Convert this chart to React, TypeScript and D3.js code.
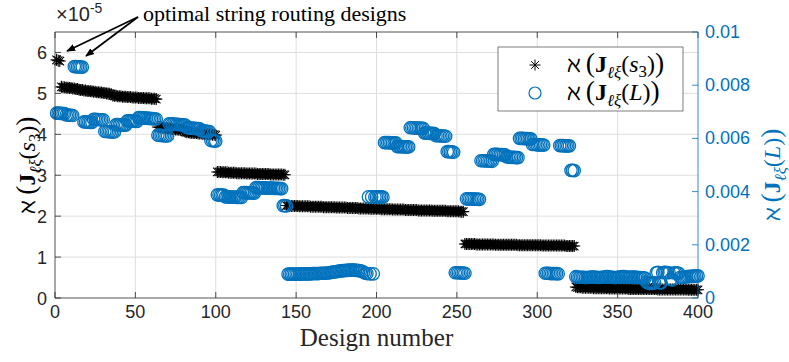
import React from 'react';
import * as d3 from 'd3';

// aleph of J for string s3 (left axis, x1e-5), one value per design 1..400
const starVals = [
  5.82, 5.80, 5.79, 5.16, 5.15, 5.15, 5.14, 5.14, 5.13, 5.13,
  5.12, 5.12, 5.11, 5.11, 5.09, 5.08, 5.08, 5.07, 5.07, 5.06,
  5.06, 5.05, 5.05, 5.04, 5.04, 5.03, 5.03, 5.02, 5.02, 5.01,
  5.01, 5.00, 5.00, 4.99, 4.98, 4.95, 4.94, 4.94, 4.93, 4.93,
  4.93, 4.92, 4.92, 4.92, 4.91, 4.91, 4.91, 4.90, 4.90, 4.90,
  4.90, 4.89, 4.89, 4.89, 4.89, 4.88, 4.88, 4.88, 4.88, 4.87,
  4.87, 4.87, 4.86, 4.18, 4.17, 4.17, 4.16, 4.16, 4.15, 4.15,
  4.14, 4.14, 4.13, 4.13, 4.12, 4.12, 4.11, 4.11, 4.10, 4.10,
  4.06, 4.05, 4.05, 4.04, 4.04, 4.03, 4.03, 4.03, 4.02, 4.02,
  4.02, 4.01, 4.01, 4.01, 4.00, 4.00, 4.00, 3.99, 3.99, 3.98,
  3.08, 3.08, 3.08, 3.07, 3.07, 3.07, 3.07, 3.06, 3.06, 3.06,
  3.06, 3.06, 3.05, 3.05, 3.05, 3.05, 3.05, 3.05, 3.04, 3.04,
  3.04, 3.04, 3.04, 3.04, 3.04, 3.03, 3.03, 3.03, 3.03, 3.03,
  3.03, 3.03, 3.03, 3.02, 3.02, 3.02, 3.02, 3.02, 3.02, 3.02,
  3.02, 3.01, 3.01, 2.26, 2.26, 2.25, 2.25, 2.25, 2.25, 2.25,
  2.25, 2.24, 2.24, 2.24, 2.24, 2.24, 2.24, 2.24, 2.23, 2.23,
  2.23, 2.23, 2.23, 2.23, 2.23, 2.23, 2.22, 2.22, 2.22, 2.22,
  2.22, 2.22, 2.22, 2.22, 2.21, 2.21, 2.21, 2.21, 2.21, 2.21,
  2.21, 2.20, 2.20, 2.20, 2.20, 2.20, 2.20, 2.20, 2.19, 2.19,
  2.19, 2.19, 2.19, 2.19, 2.19, 2.18, 2.18, 2.18, 2.18, 2.18,
  2.18, 2.18, 2.17, 2.17, 2.17, 2.17, 2.17, 2.17, 2.17, 2.16,
  2.16, 2.16, 2.16, 2.16, 2.16, 2.16, 2.16, 2.15, 2.15, 2.15,
  2.15, 2.15, 2.15, 2.15, 2.15, 2.14, 2.14, 2.14, 2.14, 2.14,
  2.14, 2.14, 2.14, 2.14, 2.13, 2.13, 2.13, 2.13, 2.13, 2.13,
  2.13, 2.13, 2.13, 2.12, 2.12, 2.12, 2.12, 2.12, 2.12, 2.12,
  2.12, 2.11, 2.11, 2.11, 1.32, 1.32, 1.32, 1.32, 1.32, 1.32,
  1.32, 1.31, 1.31, 1.31, 1.31, 1.31, 1.31, 1.31, 1.31, 1.31,
  1.31, 1.31, 1.31, 1.30, 1.30, 1.30, 1.30, 1.30, 1.30, 1.30,
  1.30, 1.30, 1.30, 1.30, 1.30, 1.30, 1.30, 1.29, 1.29, 1.29,
  1.29, 1.29, 1.29, 1.29, 1.29, 1.29, 1.29, 1.29, 1.29, 1.29,
  1.29, 1.29, 1.28, 1.28, 1.28, 1.28, 1.28, 1.28, 1.28, 1.28,
  1.28, 1.28, 1.28, 1.28, 1.28, 1.28, 1.28, 1.27, 1.27, 1.27,
  1.27, 1.27, 1.27, 0.27, 0.26, 0.26, 0.26, 0.25, 0.25, 0.25,
  0.25, 0.25, 0.25, 0.25, 0.24, 0.24, 0.24, 0.24, 0.24, 0.24,
  0.24, 0.24, 0.24, 0.24, 0.23, 0.23, 0.23, 0.23, 0.23, 0.23,
  0.23, 0.23, 0.23, 0.23, 0.23, 0.23, 0.22, 0.22, 0.22, 0.22,
  0.22, 0.22, 0.22, 0.22, 0.22, 0.22, 0.22, 0.22, 0.22, 0.22,
  0.22, 0.22, 0.22, 0.22, 0.21, 0.21, 0.21, 0.21, 0.21, 0.21,
  0.21, 0.21, 0.21, 0.21, 0.21, 0.21, 0.21, 0.21, 0.21, 0.21,
  0.21, 0.21, 0.21, 0.20, 0.20, 0.20, 0.20, 0.20, 0.20, 0.20,
];

// aleph of J for L (right axis, x1e-3), one value per design 1..400
const circleVals = [
  6.95, 6.95, 6.94, 6.94, 6.93, 6.93, 6.88, 6.88, 6.87, 6.87,
  6.86, 8.70, 8.70, 8.69, 8.69, 8.68, 8.68, 6.62, 6.62, 6.61,
  6.61, 6.60, 6.60, 6.72, 6.72, 6.71, 6.71, 6.70, 6.70, 6.70,
  6.26, 6.26, 6.25, 6.25, 6.24, 6.24, 6.24, 6.52, 6.52, 6.51,
  6.51, 6.50, 6.50, 6.50, 6.66, 6.66, 6.65, 6.65, 6.65, 6.64,
  6.64, 6.78, 6.78, 6.77, 6.77, 6.76, 6.76, 6.75, 6.75, 6.74,
  6.74, 6.73, 6.73, 6.12, 6.11, 6.11, 6.10, 6.10, 6.09, 6.09,
  6.55, 6.55, 6.54, 6.54, 6.53, 6.53, 6.52, 6.52, 6.51, 6.51,
  6.50, 6.40, 6.40, 6.39, 6.39, 6.38, 6.38, 6.37, 6.37, 6.36,
  6.28, 6.28, 6.27, 6.27, 6.26, 6.26, 5.92, 5.92, 5.91, 5.90,
  3.88, 3.88, 3.87, 3.87, 3.87, 3.80, 3.80, 3.80, 3.79, 3.79,
  3.79, 3.79, 3.78, 3.78, 3.78, 3.78, 3.96, 3.96, 3.96, 3.95,
  3.95, 3.95, 3.95, 3.94, 4.15, 4.15, 4.15, 4.14, 4.14, 4.14,
  4.14, 4.13, 4.13, 4.13, 4.13, 4.12, 4.12, 4.12, 4.12, 4.11,
  4.11, 3.47, 3.47, 3.46, 0.90, 0.90, 0.90, 0.90, 0.90, 0.90,
  0.90, 0.90, 0.91, 0.91, 0.91, 0.91, 0.91, 0.91, 0.91, 0.92,
  0.92, 0.92, 0.92, 0.92, 0.93, 0.93, 0.93, 0.93, 0.94, 0.94,
  0.95, 0.96, 0.97, 0.98, 0.99, 1.00, 1.01, 1.02, 1.03, 1.03,
  1.04, 1.04, 1.05, 1.05, 1.05, 1.05, 1.04, 1.04, 1.03, 1.02,
  1.00, 0.97, 0.93, 0.92, 3.80, 0.91, 3.80, 0.91, 3.80, 3.80,
  3.80, 3.80, 3.80, 3.79, 5.84, 5.84, 5.84, 5.84, 5.83, 5.83,
  5.83, 5.83, 5.69, 5.69, 5.69, 5.69, 5.68, 5.68, 5.68, 5.68,
  6.40, 6.40, 6.40, 6.39, 6.39, 6.39, 6.39, 6.38, 6.38, 6.20,
  6.20, 6.20, 6.19, 6.19, 6.19, 6.18, 6.10, 6.10, 6.10, 6.09,
  6.09, 6.09, 6.08, 5.50, 5.50, 5.49, 5.49, 5.48, 0.95, 0.95,
  0.95, 0.94, 0.94, 0.94, 0.93, 3.73, 3.73, 3.73, 3.72, 3.72,
  3.72, 3.72, 3.71, 3.71, 5.16, 5.16, 5.16, 5.15, 5.15, 5.15,
  5.15, 5.14, 5.40, 5.40, 5.40, 5.39, 5.39, 5.39, 5.38, 5.38,
  5.30, 5.30, 5.30, 5.29, 5.29, 5.29, 5.28, 5.28, 6.00, 6.00,
  6.00, 5.99, 5.99, 5.99, 5.98, 5.98, 5.77, 5.77, 5.77, 5.76,
  5.76, 5.76, 5.76, 5.75, 0.93, 0.93, 0.93, 0.92, 0.92, 0.92,
  0.92, 0.92, 0.91, 5.73, 5.73, 5.73, 5.72, 5.72, 5.72, 5.72,
  4.80, 4.80, 4.79, 0.80, 0.79, 0.78, 0.78, 0.78, 0.78, 0.77,
  0.77, 0.78, 0.78, 0.79, 0.79, 0.78, 0.78, 0.77, 0.77, 0.78,
  0.78, 0.79, 0.80, 0.80, 0.79, 0.78, 0.78, 0.77, 0.77, 0.78,
  0.79, 0.79, 0.80, 0.80, 0.79, 0.79, 0.78, 0.78, 0.79, 0.79,
  0.78, 0.78, 0.77, 0.77, 0.76, 0.76, 0.75, 0.60, 0.57, 0.55,
  0.55, 0.56, 0.57, 0.95, 0.96, 0.58, 0.57, 0.95, 0.96, 0.96,
  0.95, 0.95, 0.70, 0.68, 0.94, 0.95, 0.94, 0.93, 0.78, 0.77,
  0.78, 0.79, 0.80, 0.80, 0.81, 0.81, 0.82, 0.82, 0.83, 0.83,
];

const xTicks = [0, 50, 100, 150, 200, 250, 300, 350, 400];
const leftTicks = [0, 1, 2, 3, 4, 5, 6];
const rightTicks = [0, 2, 4, 6, 8, 10];
const rightTickLabels = ['0', '0.002', '0.004', '0.006', '0.008', '0.01'];

const W = 789, H = 362;
const M = { left: 55, right: 698, top: 32, bottom: 298 };
const BLUE = '#0072BD';
const AX = '#262626';
const SANS = "'Liberation Sans', Arial, Helvetica, sans-serif";
const SERIF = "'Liberation Serif', 'DejaVu Serif', serif";

function Star({ cx, cy, r = 6, w = 1.1 }: { cx: number; cy: number; r?: number; w?: number }) {
  const d = r * Math.SQRT1_2;
  return (
    <path
      d={`M${cx - r},${cy}H${cx + r}M${cx},${cy - r}V${cy + r}M${cx - d},${cy - d}L${cx + d},${cy + d}M${cx - d},${cy + d}L${cx + d},${cy - d}`}
      stroke="#000"
      strokeWidth={w}
      fill="none"
    />
  );
}

function AlephLabel({ arg, size = 24 }: { arg: 's3' | 'L'; size?: number }) {
  const sub = size * 0.7;
  const big = size * 1.15;
  return (
    <>
      <tspan fontFamily="'DejaVu Serif', serif" fontSize={size * 0.95}>ℵ</tspan>
      <tspan dx={size * 0.2} fontSize={big}>(</tspan>
      <tspan fontWeight="bold">J</tspan>
      <tspan fontStyle="italic" fontSize={sub} dy={size * 0.25}>ℓξ</tspan>
      <tspan dy={-size * 0.25}>(</tspan>
      {arg === 's3' ? (
        <>
          <tspan fontStyle="italic">s</tspan>
          <tspan fontSize={sub} dy={size * 0.22}>3</tspan>
          <tspan dy={-size * 0.22}>)</tspan>
          <tspan fontSize={big}>)</tspan>
        </>
      ) : (
        <>
          <tspan fontStyle="italic">L</tspan>
          <tspan>)</tspan>
          <tspan fontSize={big}>)</tspan>
        </>
      )}
    </>
  );
}

export default function App() {
  const x = d3.scaleLinear().domain([0, 400]).range([M.left, M.right]);
  const yL = d3.scaleLinear().domain([0, 6.5]).range([M.bottom, M.top]);
  const yR = d3.scaleLinear().domain([0, 10]).range([M.bottom, M.top]);
  const designs = starVals.map((_, i) => i + 1);

  return (
    <svg width={W} height={H} style={{ position: 'absolute', left: 0, top: 0, background: '#fff' }}>
      <defs>
        <marker id="ah" viewBox="0 0 10 10" refX="9" refY="5" markerWidth="9" markerHeight="9" orient="auto-start-reverse" markerUnits="userSpaceOnUse">
          <path d="M0,1 L10,5 L0,9 z" fill="#000" />
        </marker>
        <clipPath id="plot">
          <rect x={M.left - 8} y={M.top - 8} width={M.right - M.left + 16} height={M.bottom - M.top + 16} />
        </clipPath>
      </defs>
      <rect x={0} y={0} width={W} height={H} fill="#fff" />

      {/* grid */}
      <g stroke="#dedede" strokeWidth={1}>
        {xTicks.slice(1, -1).map(t => (
          <line key={'gx' + t} x1={x(t)} x2={x(t)} y1={M.top} y2={M.bottom} />
        ))}
        {leftTicks.slice(1).map(t => (
          <line key={'gy' + t} x1={M.left} x2={M.right} y1={yL(t)} y2={yL(t)} />
        ))}
      </g>

      {/* data */}
      <g clipPath="url(#plot)">
        {designs.map((d, i) => (
          <Star key={'s' + d} cx={x(d)} cy={yL(starVals[i])} />
        ))}
        {designs.map((d, i) => (
          <circle key={'c' + d} cx={x(d)} cy={yR(circleVals[i])} r={6.2} fill="none" stroke={BLUE} strokeWidth={1.3} />
        ))}
      </g>

      {/* axes box */}
      <g stroke={AX} strokeWidth={0.8} fill="none">
        <line x1={M.left} x2={M.right} y1={M.top} y2={M.top} />
        <line x1={M.left} x2={M.right} y1={M.bottom} y2={M.bottom} />
        <line x1={M.left} x2={M.left} y1={M.top} y2={M.bottom} />
        {xTicks.map(t => (
          <g key={'tx' + t}>
            <line x1={x(t)} x2={x(t)} y1={M.bottom} y2={M.bottom - 6} />
            <line x1={x(t)} x2={x(t)} y1={M.top} y2={M.top + 6} />
          </g>
        ))}
        {leftTicks.map(t => (
          <line key={'tl' + t} x1={M.left} x2={M.left + 6} y1={yL(t)} y2={yL(t)} />
        ))}
      </g>
      <g stroke={BLUE} strokeWidth={0.8}>
        <line x1={M.right} x2={M.right} y1={M.top} y2={M.bottom} />
        {rightTicks.map(t => (
          <line key={'tr' + t} x1={M.right} x2={M.right - 6} y1={yR(t)} y2={yR(t)} />
        ))}
      </g>

      {/* tick labels */}
      <g fontFamily={SANS} fontSize={18} fill={AX}>
        {xTicks.map(t => (
          <text key={'lx' + t} x={x(t)} y={318} textAnchor="middle">{t}</text>
        ))}
        {leftTicks.map(t => (
          <text key={'ll' + t} x={47} y={yL(t) + 6.5} textAnchor="end">{t}</text>
        ))}
      </g>
      <g fontFamily={SANS} fontSize={18} fill={BLUE}>
        {rightTicks.map((t, i) => (
          <text key={'lr' + t} x={705} y={yR(t) + 6} >{rightTickLabels[i]}</text>
        ))}
      </g>
      <text x={56} y={21} fontFamily={SANS} fontSize={20} fill={AX}>
        ×10<tspan fontSize={14} dy={-8}>-5</tspan>
      </text>

      {/* axis labels */}
      <text x={(M.left + M.right) / 2} y={346} textAnchor="middle" fontFamily={SERIF} fontSize={25} fill={AX}>
        Design number
      </text>
      <text transform={`translate(35,${(M.top + M.bottom) / 2}) rotate(-90)`} textAnchor="middle" fontFamily={SERIF} fontSize={24} fill="#000">
        <AlephLabel arg="s3" />
      </text>
      <text transform={`translate(780,${(M.top + M.bottom) / 2 + 10}) rotate(-90)`} textAnchor="middle" fontFamily={SERIF} fontSize={24} fill={BLUE}>
        <AlephLabel arg="L" />
      </text>

      {/* annotation */}
      <text x={143} y={21} fontFamily={SERIF} fontSize={22} fill="#000">optimal string routing designs</text>
      <g stroke="#000" strokeWidth={1.7}>
        <line x1={138} y1={17} x2={67} y2={51} markerEnd="url(#ah)" />
        <line x1={138} y1={17} x2={86} y2={56} markerEnd="url(#ah)" />
      </g>

      {/* legend */}
      <rect x={498} y={47} width={185} height={64} fill="#fff" stroke={AX} strokeWidth={0.6} />
      <Star cx={535} cy={65} r={5.5} w={1} />
      <circle cx={535} cy={93} r={6} fill="none" stroke={BLUE} strokeWidth={1.2} />
      <text x={567} y={72} fontFamily={SERIF} fontSize={24} fill="#000">
        <AlephLabel arg="s3" />
      </text>
      <text x={567} y={100} fontFamily={SERIF} fontSize={24} fill="#000">
        <AlephLabel arg="L" />
      </text>
    </svg>
  );
}
